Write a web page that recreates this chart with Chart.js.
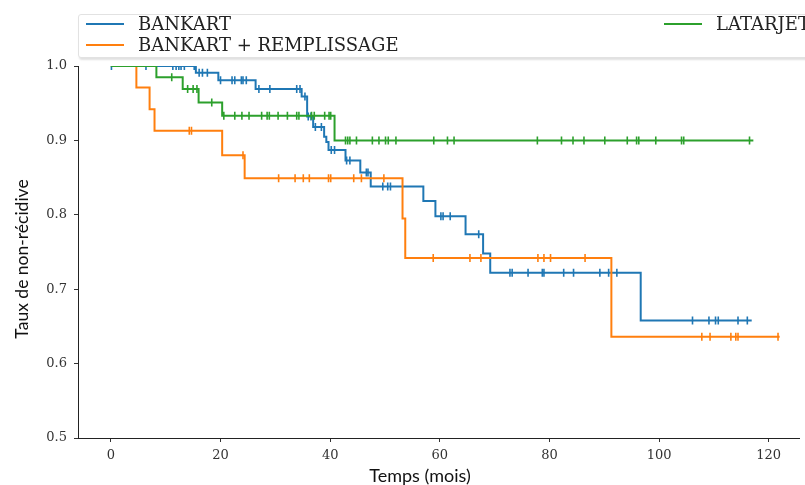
<!DOCTYPE html>
<html>
<head>
<meta charset="utf-8">
<script src="https://cdn.jsdelivr.net/npm/chart.js@4.4.1/dist/chart.umd.min.js"></script>
<style>
  html, body { margin: 0; padding: 0; background: #fff; overflow: hidden; }
  #wrap { position: relative; width: 805px; height: 485px; }
  #legend {
    position: absolute; left: 78px; top: 14px; width: 745px; height: 42px;
    background: #fff; border: 1px solid #e2e2e2; border-radius: 3px;
    box-shadow: 1px 2px 2px rgba(0,0,0,0.12);
    font-family: 'DejaVu Serif', serif; font-size: 18px; color: #222;
  }
  .leg-item { position: absolute; white-space: nowrap; line-height: 20px; }
  .leg-item i { position: absolute; left: -52px; top: 9px; width: 38px; height: 0; border-top: 2px solid; }
  .axis-title { position: absolute; font-family: Lato, sans-serif; color: #111; white-space: nowrap; line-height: 20px; }
  #xtitle { left: 320px; width: 200px; text-align: center; top: 465px; font-size: 18px; }
  #ytitle { left: 22px; top: 259px; width: 240px; margin-left: -120px; margin-top: -10px; text-align: center;
            font-size: 17.5px; transform: rotate(-90deg); }
</style>
</head>
<body>
<div id="wrap">
  <canvas id="chart" width="805" height="485"></canvas>
  <div id="legend"></div>
  <div class="axis-title" id="xtitle">Temps (mois)</div>
  <div class="axis-title" id="ytitle">Taux de non-récidive</div>
</div>
<script>
// axis ticks
const xTicks = [0, 20, 40, 60, 80, 100, 120];
const yTicks = [0.5, 0.6, 0.7, 0.8, 0.9, 1.0];

// BANKART: step times (months) and survival after each step
const bankartTimes = [0, 15.5, 19.6, 26.4, 34.8, 35.8, 36.9, 38.9, 39.3, 39.7, 42.8, 45.5, 47.4, 57.0, 59.2, 64.7, 67.9, 69.2, 96.65, 116.9];
const bankartSurv  = [1.0, 0.991, 0.981, 0.969, 0.959, 0.932, 0.918, 0.905, 0.898, 0.887, 0.873, 0.857, 0.838, 0.8185, 0.798, 0.774, 0.748, 0.722, 0.658, 0.658];
const bankartCensor = [0.1, 6.4, 11.3, 11.9, 12.4, 12.8, 13.4, 15.2, 16.1, 16.7, 17.6, 20.0, 22.1, 22.6, 23.8, 24.1, 24.7,
  27.0, 29.0, 33.9, 34.5, 35.4, 36.0, 36.5, 37.3, 38.4, 40.2, 40.8, 43.0, 43.6, 46.6, 46.9, 49.6, 50.5, 51.0,
  60.2, 60.6, 61.9, 67.1, 72.8, 73.2, 76.1, 78.7, 79.0, 82.6, 84.4, 89.2, 90.8, 92.3,
  106.1, 109.1, 110.3, 110.8, 114.4, 116.1];

// BANKART + REMPLISSAGE
const remplTimes = [0, 4.65, 7.06, 7.96, 20.3, 24.4, 53.2, 53.7, 91.3, 122.0];
const remplSurv  = [1.0, 0.971, 0.942, 0.913, 0.880, 0.849, 0.795, 0.742, 0.636, 0.636];
const remplCensor = [14.3, 14.7, 24.1, 30.6, 33.6, 35.1, 36.2, 39.7, 40.1, 44.3, 45.7, 49.8,
  58.8, 65.5, 67.5, 77.9, 79.0, 80.2, 86.5, 107.8, 109.3, 113.1, 114.0, 114.4, 121.7];

// LATARJET
const latTimes = [0, 8.3, 13.1, 16.0, 20.3, 40.8, 117.2];
const latSurv  = [1.0, 0.985, 0.969, 0.951, 0.933, 0.900, 0.900];
const latCensor = [11.1, 14.0, 15.0, 15.7, 18.4, 20.6, 22.6, 23.9, 25.2, 27.5, 28.5, 28.9, 30.5, 32.2, 33.9, 34.3,
  36.6, 37.1, 39.0, 39.8, 40.1, 42.8, 43.2, 43.6, 44.8, 47.7, 48.9, 50.1, 50.6, 52.0, 58.9, 61.4, 62.6,
  77.8, 82.2, 84.3, 86.3, 90.1, 94.2, 95.9, 96.3, 99.4, 104.1, 104.5, 116.5];

const groups = [
  { label: 'BANKART', color: '#1f77b4', times: bankartTimes, surv: bankartSurv, censor: bankartCensor, order: 3 },
  { label: 'BANKART + REMPLISSAGE', color: '#ff7f0e', times: remplTimes, surv: remplSurv, censor: remplCensor, order: 2 },
  { label: 'LATARJET', color: '#2ca02c', times: latTimes, surv: latSurv, censor: latCensor, order: 1 }
];

// survival value in effect at time t
function survAt(g, t) {
  let v = g.surv[0];
  g.times.forEach((tt, i) => { if (tt <= t) v = g.surv[i]; });
  return v;
}

const datasets = [];
groups.forEach(g => {
  datasets.push({
    label: g.label,
    data: g.times.map((t, i) => ({ x: t, y: g.surv[i] })),
    borderColor: g.color, borderWidth: 2, stepped: 'before',
    pointRadius: 0, fill: false, order: g.order
  });
  datasets.push({
    label: g.label + ' censure',
    data: g.censor.map(t => ({ x: t, y: survAt(g, t) })),
    showLine: false, borderColor: g.color, backgroundColor: g.color,
    pointStyle: 'line', rotation: 90, pointRadius: 4, pointBorderWidth: 1.6,
    pointHoverRadius: 4, order: g.order
  });
});

// legend (matplotlib style box, two columns)
const legendEl = document.getElementById('legend');
const legPos = [{ left: 59, top: -1 }, { left: 59, top: 20 }, { left: 637, top: -1 }];
groups.forEach((g, i) => {
  const d = document.createElement('div');
  d.className = 'leg-item';
  d.style.left = legPos[i].left + 'px';
  d.style.top = legPos[i].top + 'px';
  d.innerHTML = `<i style="border-color:${g.color}"></i>${g.label}`;
  legendEl.appendChild(d);
});

const tickFont = { family: "'DejaVu Serif', serif", size: 13 };

new Chart(document.getElementById('chart'), {
  type: 'line',
  data: { datasets },
  options: {
    responsive: false, animation: false,
    layout: { padding: { top: 66, right: 0, bottom: 0, left: 0 } },
    plugins: { legend: { display: false }, tooltip: { enabled: false } },
    scales: {
      x: {
        type: 'linear', min: -6, max: 125.6,
        afterBuildTicks: s => { s.ticks = xTicks.map(v => ({ value: v })); },
        afterFit: s => { s.height = 47; },
        ticks: { font: tickFont, color: '#333', padding: 6, maxRotation: 0 },
        grid: { drawOnChartArea: false, drawTicks: true, tickLength: 4, color: '#333' },
        border: { display: true, color: '#222', width: 1 }
      },
      y: {
        type: 'linear', min: 0.5, max: 1.0,
        afterBuildTicks: s => { s.ticks = yTicks.map(v => ({ value: v })); },
        afterFit: s => { s.width = 78; },
        ticks: { font: tickFont, color: '#333', padding: 7, callback: v => v.toFixed(1) },
        grid: { drawOnChartArea: false, drawTicks: true, tickLength: 4, color: '#333' },
        border: { display: true, color: '#222', width: 1 }
      }
    }
  }
});
</script>
</body>
</html>
